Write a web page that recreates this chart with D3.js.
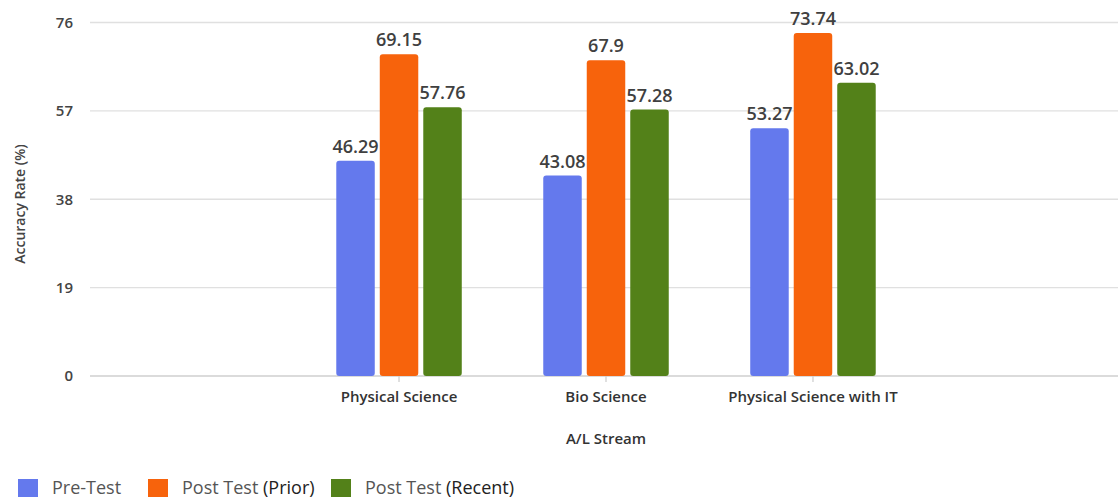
<!DOCTYPE html>
<html>
<head>
<meta charset="utf-8">
<script src="https://cdn.jsdelivr.net/npm/d3@7"></script>
<style>
  html, body { margin: 0; padding: 0; background: #fff; }
  svg { display: block; font-family: "Open Sans", "Noto Sans", sans-serif; }
</style>
</head>
<body>
<svg id="chart" width="1118" height="500"></svg>
<script>
// Accuracy rate per A/L stream
const categories = ["Physical Science", "Bio Science", "Physical Science with IT"];
const seriesNames = ["Pre-Test", "Post Test (Prior)", "Post Test (Recent)"];
const preTest = [46.29, 43.08, 53.27];
const postPrior = [69.15, 67.9, 73.74];
const postRecent = [57.76, 57.28, 63.02];
const yTicks = [0, 19, 38, 57, 76];
const colors = ["#6479ED", "#F7630C", "#538119"];

const seriesValues = [preTest, postPrior, postRecent];

const svg = d3.select("#chart");

const y = d3.scaleLinear().domain([0, 76]).range([376, 22.5]);
const x = d3.scaleBand().domain(categories).range([90, 1122]).paddingInner(0).paddingOuter(0.993);
const groupWidth = 125.5;
const xs = d3.scaleBand().domain(seriesNames).range([0, groupWidth]).paddingInner(0.115).paddingOuter(0);

// gridlines
svg.append("g").selectAll("line").data(yTicks).join("line")
  .attr("x1", 90).attr("x2", 1118)
  .attr("y1", d => y(d)).attr("y2", d => y(d))
  .attr("stroke", d => d === 0 ? "#cfcfcf" : "#e0e0e0")
  .attr("stroke-width", 1.3);

// y tick labels
svg.append("g").selectAll("text").data(yTicks).join("text")
  .attr("x", 73).attr("y", d => y(d))
  .attr("dy", "0.35em")
  .attr("text-anchor", "end")
  .attr("font-size", 15).attr("font-weight", 600)
  .attr("fill", "#444")
  .text(d => d);

// y axis title
svg.append("text")
  .attr("transform", "translate(25,204) rotate(-90)")
  .attr("text-anchor", "middle")
  .attr("font-size", 14).attr("font-weight", 600)
  .attr("fill", "#444")
  .text("Accuracy Rate (%)");

// category ticks and labels
const cx = c => x(c) + x.bandwidth() / 2;
svg.append("g").selectAll("line").data(categories).join("line")
  .attr("x1", cx).attr("x2", cx)
  .attr("y1", 376).attr("y2", 382)
  .attr("stroke", "#cfcfcf").attr("stroke-width", 1.3);

svg.append("g").selectAll("text").data(categories).join("text")
  .attr("x", cx).attr("y", 402)
  .attr("text-anchor", "middle")
  .attr("font-size", 15).attr("font-weight", 600)
  .attr("fill", "#333")
  .text(d => d);

svg.append("text")
  .attr("x", 606).attr("y", 444)
  .attr("text-anchor", "middle")
  .attr("font-size", 15).attr("font-weight", 600)
  .attr("fill", "#333")
  .text("A/L Stream");

// bars
const rows = [];
categories.forEach((c, i) => {
  seriesNames.forEach((s, j) => {
    rows.push({ cat: c, series: s, idx: j, value: seriesValues[j][i] });
  });
});

const barX = d => cx(d.cat) - groupWidth / 2 + xs(d.series);

svg.append("g").selectAll("rect").data(rows).join("rect")
  .attr("x", barX)
  .attr("y", d => y(d.value))
  .attr("width", xs.bandwidth())
  .attr("height", d => y(0) - y(d.value))
  .attr("rx", 3).attr("ry", 3)
  .attr("fill", d => colors[d.idx]);

// value labels
svg.append("g").selectAll("text").data(rows).join("text")
  .attr("x", d => barX(d) + xs.bandwidth() / 2)
  .attr("y", d => y(d.value) - 8)
  .attr("text-anchor", "middle")
  .attr("font-size", 18).attr("font-weight", 600)
  .attr("fill", "#404040")
  .text(d => d.value);

// legend
const legendX = [18, 148, 331];
const legend = svg.append("g").selectAll("g").data(seriesNames).join("g")
  .attr("transform", (d, i) => `translate(${legendX[i]},0)`);
legend.append("rect")
  .attr("x", 0).attr("y", 479).attr("width", 20).attr("height", 18)
  .attr("fill", (d, i) => colors[i]);
const lt = legend.append("text")
  .attr("x", 34).attr("y", 494)
  .attr("font-size", 18)
  .attr("fill", "#555");
lt.append("tspan").text(d => d.split(" (")[0]);
lt.filter(d => d.includes("(")).append("tspan")
  .attr("fill", "#222")
  .text(d => " (" + d.split(" (")[1]);
</script>
</body>
</html>
